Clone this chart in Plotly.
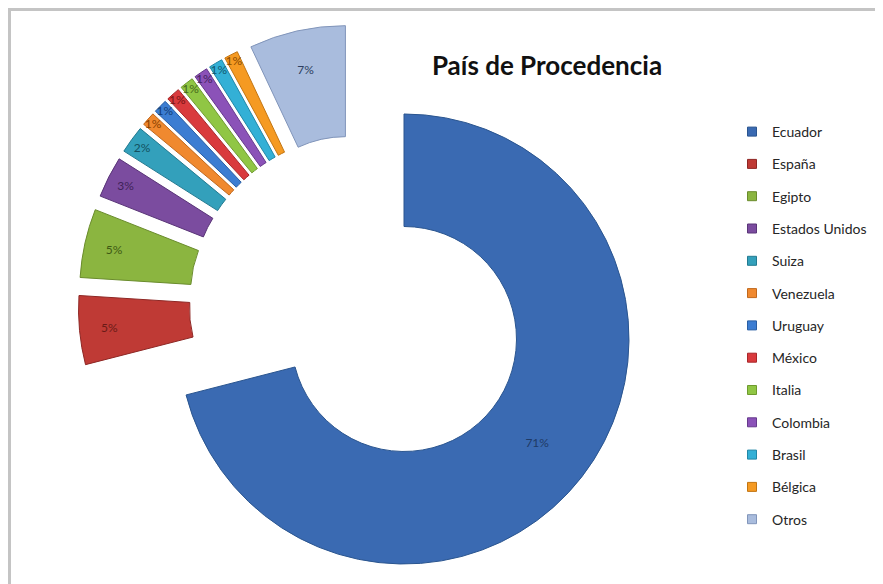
"""Exploded doughnut: country of origin shares."""

import plotly.graph_objects as go

W, H = 883, 584
OFF = 8  # the page body margin shifts the figure by this much

countries = [
    "Ecuador", "España", "Egipto", "Estados Unidos", "Suiza", "Venezuela",
    "Uruguay", "México", "Italia", "Colombia", "Brasil", "Bélgica", "Otros",
]
shares = [71, 5, 5, 3, 2, 1, 1, 1, 1, 1, 1, 1, 7]

slice_colors = [
    "#3A6AB2", "#BF3A35", "#8BB540", "#7B4C9F", "#33A0BB", "#F0892F",
    "#3C7DD2", "#D93A3D", "#90C644", "#8B52B8", "#33B0D6", "#F59A22", "#A9BCDD",
]
edge_colors = [
    "#2A558F", "#8E2724", "#6A8C2C", "#5A3578", "#227A90", "#C0681C",
    "#2A5EA3", "#A82629", "#6E9A2E", "#663A8C", "#2287A6", "#C27512", "#8195BA",
]
label_colors = [
    "#1F3A66", "#6B1A17", "#3F5A14", "#3F2258", "#12505F", "#8A4100",
    "#123E78", "#7A1415", "#46681A", "#43235E", "#115A70", "#8A4A00", "#2E3F60",
]

CLEAR = "rgba(0,0,0,0)"


def _px_domain(cx, cy, half):
    """Square pie domain (paper fractions) centred on page pixel (cx, cy)."""
    cx, cy = cx - OFF, cy - OFF
    return dict(
        x=[max(0, (cx - half) / W), min(1, (cx + half) / W)],
        y=[max(0, 1 - (cy + half) / H), min(1, 1 - (cy - half) / H)],
    )


def _pie(show, domain, pull):
    """Doughnut with only the slices flagged in `show` painted."""
    return go.Pie(
        labels=countries,
        values=shares,
        sort=False,
        direction="clockwise",
        rotation=0,
        hole=0.5,
        domain=domain,
        pull=pull,
        marker=dict(
            colors=[c if s else CLEAR for c, s in zip(slice_colors, show)],
            line=dict(
                color=[c if s else CLEAR for c, s in zip(edge_colors, show)],
                width=[1 if s else 0 for s in show],
            ),
        ),
        texttemplate=["%{percent:.0%}" if s else "" for s in show],
        textposition="inside",
        insidetextorientation="horizontal",
        textfont=dict(family="Lato", size=12, color=label_colors),
        hoverinfo="label+percent",
        showlegend=False,
    )


big = [i == 0 for i in range(len(countries))]
small = [not b for b in big]

fig = go.Figure()

# Ecuador stays in place, the rest is exploded out to the upper left
fig.add_trace(_pie(big, _px_domain(404, 339, 225), 0))
fig.add_trace(_pie(small, _px_domain(358, 304, 222 * 1.26), [0 if b else 0.26 for b in big]))

# legend entries
for name, color, edge in zip(countries, slice_colors, edge_colors):
    fig.add_trace(
        go.Scatter(
            x=[None],
            y=[None],
            mode="markers",
            name=name,
            legendgroup=name,
            marker=dict(symbol="square", size=9, color=color, line=dict(color=edge, width=1)),
        )
    )

fig.update_layout(
    width=W,
    height=H,
    margin=dict(l=0, r=0, t=0, b=0),
    paper_bgcolor="white",
    plot_bgcolor="white",
    xaxis=dict(visible=False),
    yaxis=dict(visible=False),
    uniformtext=dict(minsize=11, mode="show"),
    title=dict(
        text="<b>País de Procedencia</b>",
        x=(547 - OFF) / W,
        xanchor="center",
        y=1 - (66 - OFF) / H,
        yanchor="middle",
        font=dict(family="Lato", size=26, color="#111111"),
    ),
    legend=dict(
        x=(732 - OFF) / W,
        y=1 - (116 - OFF) / H,
        xanchor="left",
        yanchor="top",
        traceorder="grouped",
        tracegroupgap=11.1,
        itemwidth=30,
        bgcolor=CLEAR,
        font=dict(family="Lato", size=14, color="#262626"),
    ),
    shapes=[
        dict(
            type="rect",
            xref="paper",
            yref="paper",
            x0=1.5 / W,
            x1=1.05,
            y0=-0.05,
            y1=1 - 1.5 / H,
            line=dict(color="#C4C4C4", width=3),
            layer="below",
        )
    ],
)

fig.write_html("out.html")
